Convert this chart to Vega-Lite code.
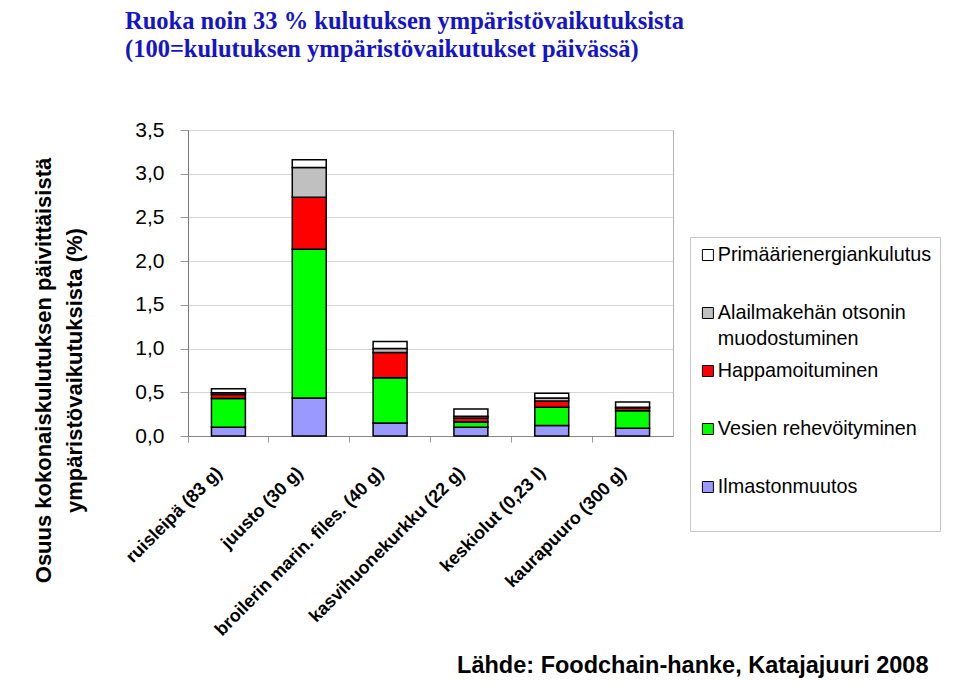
{
  "$schema": "https://vega.github.io/schema/vega-lite/v6.json",
  "autosize": "none",
  "width": 485,
  "height": 306,
  "padding": {"left": 188, "top": 130, "right": 287, "bottom": 260},
  "background": "white",
  "title": {
    "text": ["Ruoka noin 33 % kulutuksen ympäristövaikutuksista", "(100=kulutuksen ympäristövaikutukset päivässä)"],
    "anchor": "start",
    "align": "left",
    "frame": "group",
    "dx": -63,
    "offset": 57,
    "font": "Liberation Serif",
    "fontSize": 24.5,
    "fontWeight": "bold",
    "color": "#1414c8",
    "lineHeight": 28
  },
  "data": {
    "values": [
      {"tuote": "ruisleipä (83 g)", "vaikutus": "Ilmastonmuutos", "n": 1, "arvo": 0.10},
      {"tuote": "ruisleipä (83 g)", "vaikutus": "Vesien rehevöityminen", "n": 2, "arvo": 0.33},
      {"tuote": "ruisleipä (83 g)", "vaikutus": "Happamoituminen", "n": 3, "arvo": 0.045},
      {"tuote": "ruisleipä (83 g)", "vaikutus": "Alailmakehän otsonin muodostuminen", "n": 4, "arvo": 0.02},
      {"tuote": "ruisleipä (83 g)", "vaikutus": "Primäärienergiankulutus", "n": 5, "arvo": 0.045},
      {"tuote": "juusto (30 g)", "vaikutus": "Ilmastonmuutos", "n": 1, "arvo": 0.435},
      {"tuote": "juusto (30 g)", "vaikutus": "Vesien rehevöityminen", "n": 2, "arvo": 1.70},
      {"tuote": "juusto (30 g)", "vaikutus": "Happamoituminen", "n": 3, "arvo": 0.595},
      {"tuote": "juusto (30 g)", "vaikutus": "Alailmakehän otsonin muodostuminen", "n": 4, "arvo": 0.34},
      {"tuote": "juusto (30 g)", "vaikutus": "Primäärienergiankulutus", "n": 5, "arvo": 0.09},
      {"tuote": "broilerin marin. files. (40 g)", "vaikutus": "Ilmastonmuutos", "n": 1, "arvo": 0.15},
      {"tuote": "broilerin marin. files. (40 g)", "vaikutus": "Vesien rehevöityminen", "n": 2, "arvo": 0.515},
      {"tuote": "broilerin marin. files. (40 g)", "vaikutus": "Happamoituminen", "n": 3, "arvo": 0.29},
      {"tuote": "broilerin marin. files. (40 g)", "vaikutus": "Alailmakehän otsonin muodostuminen", "n": 4, "arvo": 0.046},
      {"tuote": "broilerin marin. files. (40 g)", "vaikutus": "Primäärienergiankulutus", "n": 5, "arvo": 0.08},
      {"tuote": "kasvihuonekurkku (22 g)", "vaikutus": "Ilmastonmuutos", "n": 1, "arvo": 0.10},
      {"tuote": "kasvihuonekurkku (22 g)", "vaikutus": "Vesien rehevöityminen", "n": 2, "arvo": 0.06},
      {"tuote": "kasvihuonekurkku (22 g)", "vaikutus": "Happamoituminen", "n": 3, "arvo": 0.045},
      {"tuote": "kasvihuonekurkku (22 g)", "vaikutus": "Alailmakehän otsonin muodostuminen", "n": 4, "arvo": 0.02},
      {"tuote": "kasvihuonekurkku (22 g)", "vaikutus": "Primäärienergiankulutus", "n": 5, "arvo": 0.085},
      {"tuote": "keskiolut (0,23 l)", "vaikutus": "Ilmastonmuutos", "n": 1, "arvo": 0.12},
      {"tuote": "keskiolut (0,23 l)", "vaikutus": "Vesien rehevöityminen", "n": 2, "arvo": 0.21},
      {"tuote": "keskiolut (0,23 l)", "vaikutus": "Happamoituminen", "n": 3, "arvo": 0.07},
      {"tuote": "keskiolut (0,23 l)", "vaikutus": "Alailmakehän otsonin muodostuminen", "n": 4, "arvo": 0.035},
      {"tuote": "keskiolut (0,23 l)", "vaikutus": "Primäärienergiankulutus", "n": 5, "arvo": 0.055},
      {"tuote": "kaurapuuro (300 g)", "vaikutus": "Ilmastonmuutos", "n": 1, "arvo": 0.09},
      {"tuote": "kaurapuuro (300 g)", "vaikutus": "Vesien rehevöityminen", "n": 2, "arvo": 0.20},
      {"tuote": "kaurapuuro (300 g)", "vaikutus": "Happamoituminen", "n": 3, "arvo": 0.03},
      {"tuote": "kaurapuuro (300 g)", "vaikutus": "Alailmakehän otsonin muodostuminen", "n": 4, "arvo": 0.01},
      {"tuote": "kaurapuuro (300 g)", "vaikutus": "Primäärienergiankulutus", "n": 5, "arvo": 0.06}
    ]
  },
  "mark": {"type": "bar", "stroke": "black", "strokeWidth": 1.5, "width": {"band": 0.42}},
  "encoding": {
    "x": {
      "field": "tuote",
      "type": "nominal",
      "sort": null,
      "scale": {"paddingInner": 0, "paddingOuter": 0},
      "axis": {
        "title": "Lähde: Foodchain-hanke, Katajajuuri 2008",
        "titleX": 740,
        "titleY": 229,
        "titleAlign": "right",
        "titleBaseline": "middle",
        "titleAngle": 0,
        "titleFont": "Liberation Sans",
        "titleFontSize": 23.5,
        "titleFontWeight": "bold",
        "titleColor": "black",
        "labelAngle": -45,
        "labelAlign": "right",
        "labelBaseline": "middle",
        "labelFont": "Liberation Sans",
        "labelFontSize": 18,
        "labelFontWeight": "bold",
        "labelColor": "black",
        "labelPadding": 28,
        "labelOffset": -9,
        "labelLimit": 400,
        "labelOverlap": false,
        "bandPosition": 0,
        "tickExtra": true,
        "tickSize": 6,
        "tickColor": "#999999",
        "domainColor": "#888888"
      }
    },
    "y": {
      "field": "arvo",
      "type": "quantitative",
      "stack": "zero",
      "scale": {"domain": [0, 3.5], "nice": false},
      "axis": {
        "title": ["Osuus kokonaiskulutuksen päivittäisistä", "ympäristövaikutuksista (%)"],
        "titleFont": "Liberation Sans",
        "titleFontSize": 22,
        "titleFontWeight": "bold",
        "titleColor": "black",
        "titleLineHeight": 31,
        "titleX": -133,
        "titleY": 240,
        "titleAngle": -90,
        "titleAlign": "center",
        "titleBaseline": "bottom",
        "values": [0, 0.5, 1, 1.5, 2, 2.5, 3, 3.5],
        "labelExpr": "replace(format(datum.value, '.1f'), '.', ',')",
        "labelFont": "Liberation Sans",
        "labelFontSize": 21,
        "labelColor": "black",
        "labelPadding": 16,
        "tickSize": 8,
        "tickColor": "#999999",
        "domainColor": "#777777",
        "grid": true,
        "gridColor": "#d4d4d4"
      }
    },
    "color": {
      "field": "vaikutus",
      "type": "nominal",
      "scale": {
        "domain": ["Primäärienergiankulutus", "Alailmakehän otsonin muodostuminen", "Happamoituminen", "Vesien rehevöityminen", "Ilmastonmuutos"],
        "range": ["#ffffff", "#c0c0c0", "#ff0000", "#00ff00", "#9999ff"]
      },
      "legend": {
        "orient": "none",
        "legendX": 502,
        "legendY": 107,
        "direction": "vertical",
        "padding": 8,
        "strokeColor": "#c8c8c8",
        "fillColor": "white",
        "symbolType": "square",
        "symbolSize": 121,
        "symbolStrokeColor": "black",
        "symbolStrokeWidth": 1,
        "labelFont": "Liberation Sans",
        "labelFontSize": 19.8,
        "labelColor": "black",
        "labelOffset": 0,
        "labelLimit": 400,
        "rowPadding": 12,
        "clipHeight": 20,
        "labelExpr": "datum.value == 'Alailmakehän otsonin muodostuminen' ? ['Alailmakehän otsonin', 'muodostuminen'] : [datum.label, ' ']",
        "title": null,
        "encode": {"labels": {"update": {"lineHeight": {"value": 26}}}}
      }
    },
    "order": {"field": "n", "type": "quantitative"}
  },
  "config": {"view": {"stroke": "#b0b0b0"}, "font": "Liberation Sans"}
}
